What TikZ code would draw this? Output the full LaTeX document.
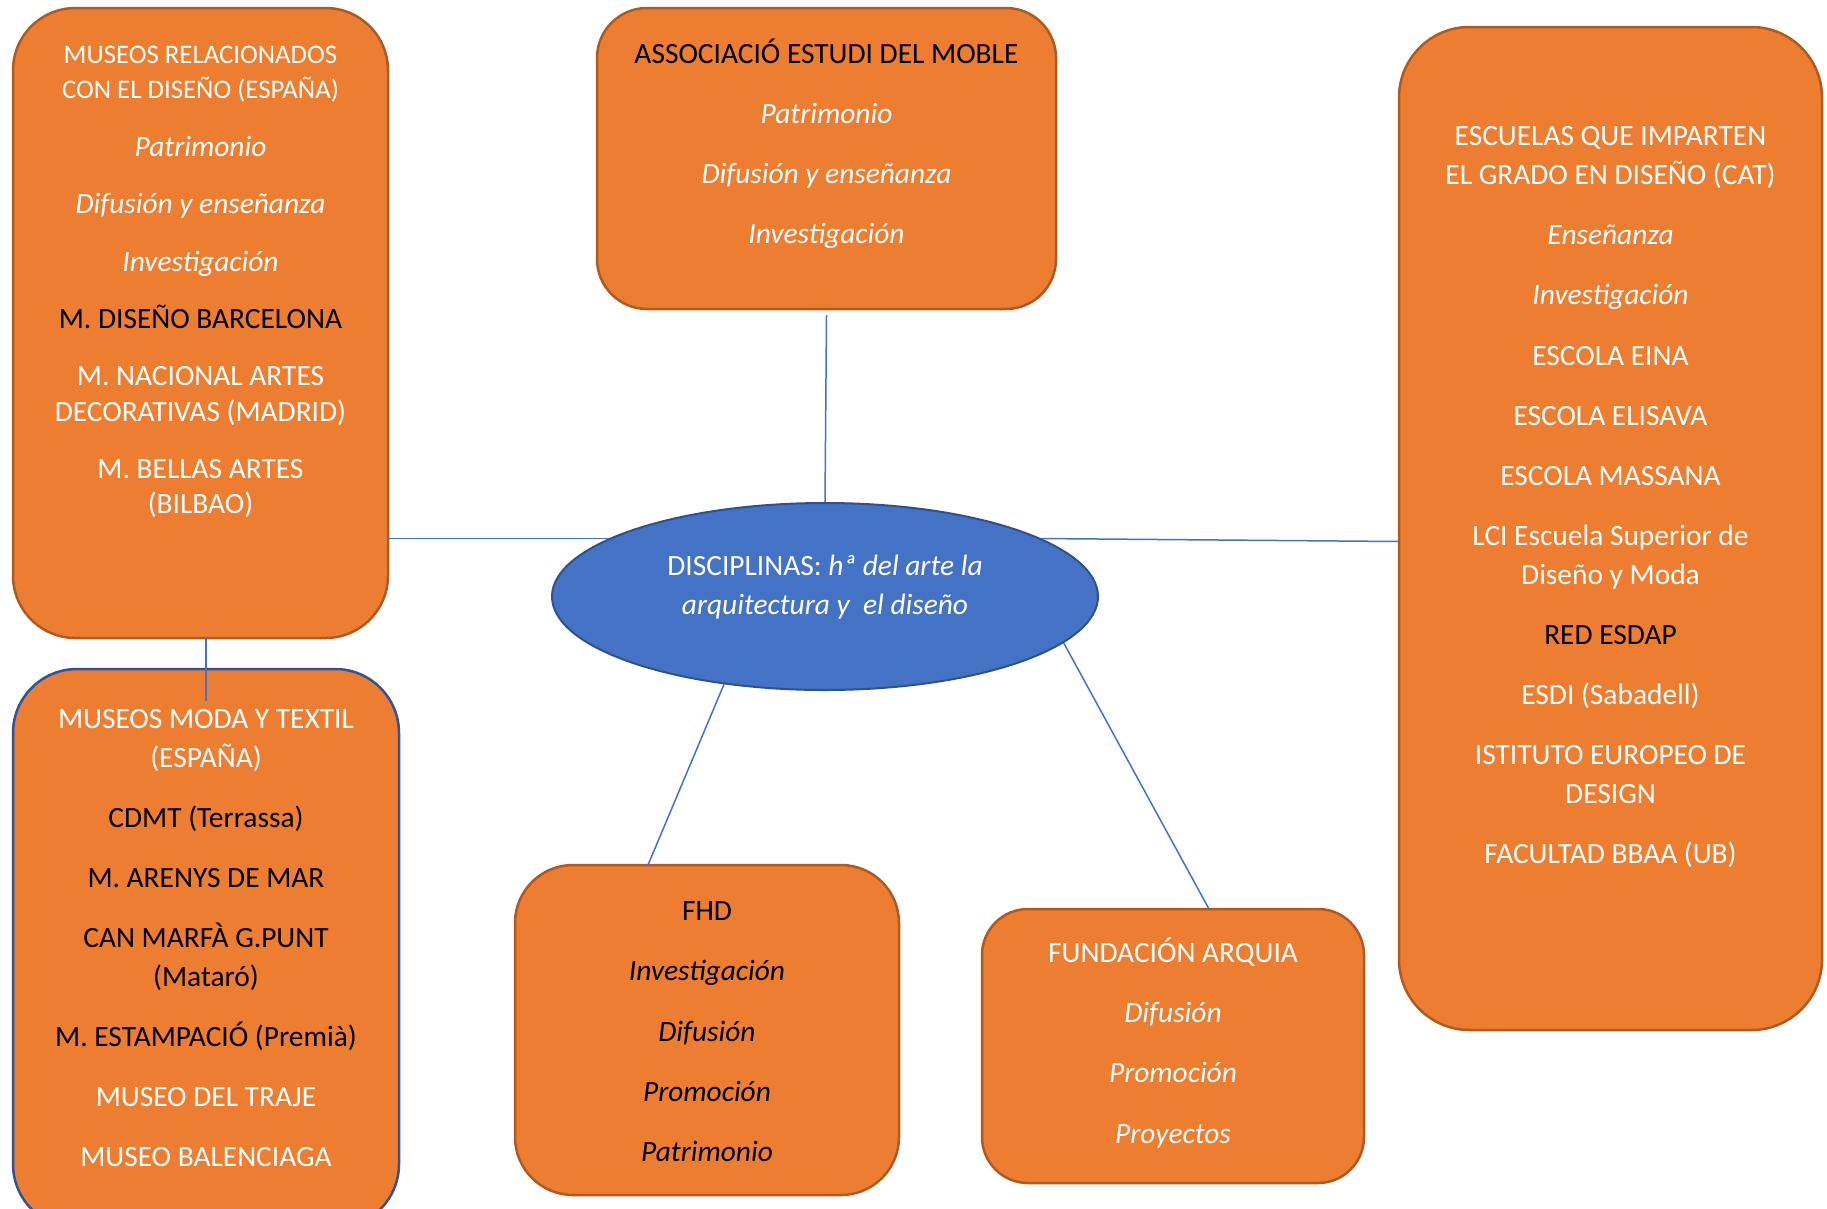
\documentclass[tikz,border=0pt]{standalone}
\usepackage{fontspec}
\setmainfont{Carlito}
\usetikzlibrary{shapes.geometric}
\definecolor{boxfill}{HTML}{ED7D31}
\definecolor{boxline}{HTML}{AE5A21}
\definecolor{blueline}{HTML}{2F5597}
\definecolor{ellfill}{HTML}{4472C4}
\definecolor{ellline}{HTML}{2F528F}
\definecolor{connc}{HTML}{4472C4}
\newcommand\blk{\color{black}}
\newcommand\hdr{\fontsize{26.8}{35.3}\selectfont}
\newcommand\nb{\\[21.3pt]}
\newcommand\na{\\[22.1pt]}
\begin{document}
\begin{tikzpicture}[x=1pt,y=-1pt,
  box/.style={draw=boxline, line width=2.5pt, fill=boxfill, inner sep=0pt, outer sep=0pt},
  txt/.style={anchor=north, inner sep=0pt, align=center, text=white, font=\fontsize{29.4}{38.8}\selectfont},
  txtA/.style={txt, font=\fontsize{29.4}{35.3}\selectfont},
  link/.style={draw=connc, line width=1.5pt}]
\clip (0,0) rectangle (1827,1208);
\fill[white] (0,0) rectangle (1827,1208);
% boxes
\node[box, rounded corners=62.5pt, minimum width=375pt, minimum height=630pt] (b1) at (200.5,323) {};
\node[box, draw=blueline, rounded corners=64pt, minimum width=386pt, minimum height=559pt] (b2) at (206,948.5) {};
\node[box, rounded corners=50pt, minimum width=459pt, minimum height=301pt] (b3) at (826.5,158.5) {};
\node[box, rounded corners=70.5pt, minimum width=423pt, minimum height=1003pt] (b4) at (1610.5,528.5) {};
\node[box, rounded corners=58pt, minimum width=384pt, minimum height=330pt] (b5) at (707,1030) {};
\node[box, rounded corners=46pt, minimum width=382pt, minimum height=274pt] (b6) at (1173,1046) {};
\node[ellipse, draw=ellline, line width=2pt, fill=ellfill, minimum width=546pt, minimum height=187pt, inner sep=0pt] (el) at (825,596.5) {};
% texts
\node[txtA] (t1) at (200.5,38.7) {\hdr\strut MUSEOS RELACIONADOS\\\hdr CON EL DISEÑO (ESPAÑA)\na \itshape Patrimonio\na \itshape Difusión y enseñanza\na \itshape Investigación\na \blk M. DISEÑO BARCELONA\na M. NACIONAL ARTES\\DECORATIVAS (MADRID)\na M. BELLAS ARTES\\(BILBAO)};
\node[txt] (t2) at (206,701.3) {\strut MUSEOS MODA Y TEXTIL\\(ESPAÑA)\nb \blk CDMT (Terrassa)\nb \blk M. ARENYS DE MAR\nb \blk CAN MARFÀ G.PUNT\\\blk (Mataró)\nb \blk M. ESTAMPACIÓ (Premià)\nb MUSEO DEL TRAJE\nb MUSEO BALENCIAGA};
\node[txt] (t3) at (826.5,35.9) {\strut\blk ASSOCIACIÓ ESTUDI DEL MOBLE\nb \itshape Patrimonio\nb \itshape Difusión y enseñanza\nb \itshape Investigación};
\node[txt] (t4) at (1610.5,118.6) {\strut ESCUELAS QUE IMPARTEN\\EL GRADO EN DISEÑO (CAT)\nb \itshape Enseñanza\nb \itshape Investigación\nb ESCOLA EINA\nb ESCOLA ELISAVA\nb ESCOLA MASSANA\nb LCI Escuela Superior de\\Diseño y Moda\nb \blk RED ESDAP\nb ESDI (Sabadell)\nb ISTITUTO EUROPEO DE\\DESIGN\nb FACULTAD BBAA (UB)};
\node[txt] (t5) at (707,893.5) {\strut\blk FHD\nb \blk\itshape Investigación\nb \blk\itshape Difusión\nb \blk\itshape Promoción\nb \blk\itshape Patrimonio};
\node[txt] (t6) at (1173,935.4) {\strut FUNDACIÓN ARQUIA\nb \itshape Difusión\nb \itshape Promoción\nb \itshape Proyectos};
\node[txt] (elt) at (825,548.6) {\strut DISCIPLINAS: \itshape hª del arte la\\\itshape arquitectura y~~el diseño};
% connectors
\draw[link] ([yshift=-6pt]b3.south) -- (el.north);
\draw[link] (b1.east |- el.165.8) -- (el.165.8);
\draw[link] (el.15.4) -- ([yshift=-13pt]b4.west);
\draw[link] (b2.north |- b1.south) -- ([yshift=-32pt]b2.north);
\draw[link] (el.221.5) -- ([xshift=-59pt]b5.north);
\draw[link] (el.-11) -- ([xshift=36pt]b6.north);
\end{tikzpicture}
\end{document}
